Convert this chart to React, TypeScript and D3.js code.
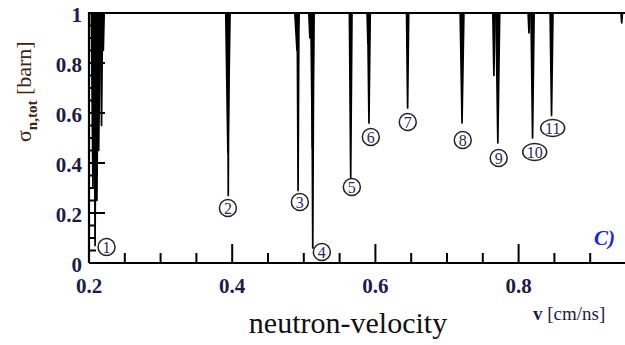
import React from "react";
import * as d3 from "d3";

// resonance dips: centre velocity [cm/ns], minimum sigma [barn], half width [cm/ns]
const dipV = [0.2055, 0.2085, 0.211, 0.2135, 0.2175, 0.22, 0.394, 0.3945, 0.4905, 0.492, 0.5085, 0.512, 0.5125, 0.5655, 0.5895, 0.591, 0.645, 0.721, 0.7655, 0.771, 0.8145, 0.8195, 0.846, 0.944];
const dipMin = [0.3, 0.07, 0.25, 0.45, 0.55, 0.85, 0.44, 0.27, 0.85, 0.29, 0.9, 0.46, 0.06, 0.34, 0.88, 0.56, 0.62, 0.56, 0.75, 0.48, 0.92, 0.5, 0.59, 0.96];
const dipW = [0.0022, 0.0015, 0.0022, 0.0022, 0.0015, 0.0012, 0.003, 0.001, 0.003, 0.0012, 0.0015, 0.0022, 0.0015, 0.0018, 0.001, 0.0018, 0.0015, 0.0026, 0.0015, 0.0026, 0.0012, 0.0022, 0.002, 0.001];

// numbered resonance markers
const labelText = ["1", "2", "3", "4", "5", "6", "7", "8", "9", "10", "11"];
const labelV = [0.2245, 0.394, 0.4945, 0.5252, 0.5671, 0.5936, 0.6452, 0.722, 0.7722, 0.8225, 0.8476];
const labelS = [0.064, 0.22, 0.244, 0.044, 0.304, 0.504, 0.564, 0.492, 0.42, 0.444, 0.54];

const xMajor = [0.2, 0.4, 0.6, 0.8];
const xMinor = [0.25, 0.3, 0.35, 0.45, 0.5, 0.55, 0.65, 0.7, 0.75, 0.85, 0.9];
const yMajor = [0, 0.2, 0.4, 0.6, 0.8, 1];
const yMinor = [0.05, 0.1, 0.15, 0.25, 0.3, 0.35, 0.45, 0.5, 0.55, 0.65, 0.7, 0.75, 0.85, 0.9, 0.95];

const W = 625, H = 345;
const serif = "'Liberation Serif', 'DejaVu Serif Condensed', 'DejaVu Serif', serif";
const tickColor = "#1c1c48";

export default function App() {
  const x = d3.scaleLinear().domain([0.2, 0.95]).range([89, 626]);
  const y = d3.scaleLinear().domain([0, 1]).range([263, 13]);
  const line = d3.line<[number, number]>().x(d => x(d[0])).y(d => y(d[1]));

  const dips = dipV.map((v, i) => line([[v - dipW[i], 1], [v, dipMin[i]], [v + dipW[i], 1]]) as string);

  return (
    <svg width={W} height={H} style={{ position: "absolute", left: 0, top: 0, background: "#fff", fontStretch: "condensed" }}>
      <g>
        {dips.map((d, i) => (
          <path key={i} d={d} fill="#000" stroke="#000" strokeWidth={1.7} strokeLinejoin="round" />
        ))}
      </g>
      {/* frame */}
      <path d={`M${x(0.2)},${y(0)}H${W}M${x(0.2)},${y(0)}V${y(1)}H${W}`} fill="none" stroke="#000" strokeWidth={2.2} />
      {xMajor.map(t => <line key={"xM" + t} x1={x(t)} x2={x(t)} y1={y(0)} y2={y(0) - 19} stroke="#000" strokeWidth={2} />)}
      {xMinor.map(t => <line key={"xm" + t} x1={x(t)} x2={x(t)} y1={y(0)} y2={y(0) - 10} stroke="#000" strokeWidth={2} />)}
      {yMajor.map(t => <line key={"yM" + t} x1={x(0.2)} x2={x(0.2) + 16} y1={y(t)} y2={y(t)} stroke="#000" strokeWidth={2} />)}
      {yMinor.map(t => <line key={"ym" + t} x1={x(0.2)} x2={x(0.2) + 7} y1={y(t)} y2={y(t)} stroke="#000" strokeWidth={2} />)}
      {xMajor.map(t => (
        <text key={"xl" + t} x={x(t)} y={293} textAnchor="middle" fontFamily={serif} fontWeight="bold" fontSize={21} fill={tickColor}>{t.toFixed(1)}</text>
      ))}
      {yMajor.map(t => (
        <text key={"yl" + t} x={82} y={y(t) + 9} textAnchor="end" fontFamily={serif} fontWeight="bold" fontSize={21} fill={tickColor}>{t === 0 || t === 1 ? String(t) : t.toFixed(1)}</text>
      ))}
      {/* markers */}
      {labelText.map((t, i) => {
        const cx = x(labelV[i]), cy = y(labelS[i]);
        const rx = t.length > 1 ? 12 : 8.5;
        return (
          <g key={"lab" + t}>
            <ellipse cx={cx} cy={cy} rx={rx} ry={8.5} fill="#fff" stroke="#222" strokeWidth={1.5} />
            <text x={cx} y={cy + 5.5} textAnchor="middle" fontFamily={serif} fontSize={16} fill="#2a2a60">{t}</text>
          </g>
        );
      })}
      <text x={594} y={245} fontFamily={serif} fontStyle="italic" fontWeight="bold" fontSize={21} fill="#2222ee">C)</text>
      <text x={348} y={333} textAnchor="middle" fontFamily={serif} fontSize={30} fill="#111">neutron-velocity</text>
      <text x={533} y={320} fontFamily={serif} fontSize={19} fill={tickColor}>
        <tspan fontWeight="bold" fontSize={19}>v</tspan> [cm/ns]
      </text>
      <text transform="translate(31,142) rotate(-90)" fontFamily={serif} fontSize={22} fill="#3a2414">
        σ<tspan fontWeight="bold" fontSize={15} dy={6}>n,tot</tspan><tspan dy={-6}> [barn]</tspan>
      </text>
    </svg>
  );
}
